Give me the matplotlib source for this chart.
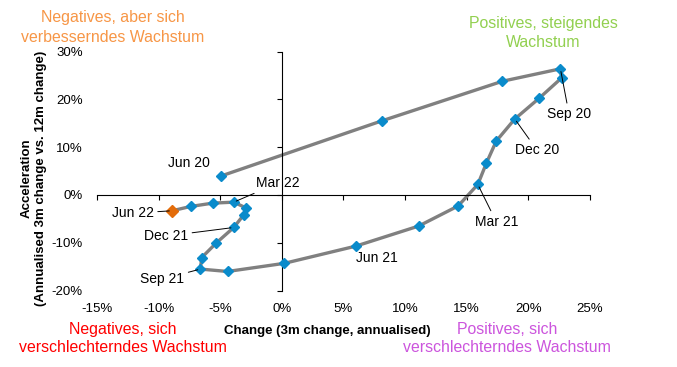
import matplotlib.pyplot as plt
from matplotlib.ticker import FuncFormatter

plt.rcParams['font.family'] = ['Liberation Sans', 'DejaVu Sans']

# monthly points, Jun 20 .. Jun 22 (in %)
months = ['Jun 20', 'Jul 20', 'Aug 20', 'Sep 20', 'Oct 20', 'Nov 20', 'Dec 20',
          'Jan 21', 'Feb 21', 'Mar 21', 'Apr 21', 'May 21', 'Jun 21',
          'Jul 21', 'Aug 21', 'Sep 21', 'Oct 21', 'Nov 21', 'Dec 21',
          'Jan 22', 'Feb 22', 'Mar 22', 'Apr 22', 'May 22', 'Jun 22']
change = [-4.9, 8.1, 17.9, 22.6, 22.7, 20.9, 18.9, 17.4, 16.6, 15.9, 14.3, 11.1, 6.0,
          0.2, -4.4, -6.6, -6.5, -5.3, -3.9, -3.1, -2.9, -3.9, -5.6, -7.4, -8.9]
accel = [4.0, 15.5, 23.8, 26.4, 24.5, 20.3, 15.9, 11.3, 6.7, 2.2, -2.3, -6.5, -10.7,
         -14.3, -16.0, -15.5, -13.1, -10.0, -6.8, -4.2, -2.7, -1.5, -1.7, -2.4, -3.3]

x_ticks = [-15, -10, -5, 0, 5, 10, 15, 20, 25]
y_ticks = [-20, -10, 0, 10, 20, 30]

# label -> text position (data units), whether a leader line is drawn
labels = {
    'Jun 20': (-7.5, 6.7, False),
    'Sep 20': (23.3, 16.9, True),
    'Dec 20': (20.7, 9.4, True),
    'Mar 21': (17.4, -5.6, True),
    'Jun 21': (7.7, -13.2, False),
    'Sep 21': (-9.7, -17.6, True),
    'Dec 21': (-9.4, -8.6, True),
    'Mar 22': (-0.3, 2.5, True),
    'Jun 22': (-12.1, -3.8, True),
}

# quadrant captions: (x, y of each line) in figure fraction, colour
quadrants = [
    (['Negatives, aber sich', 'verbesserndes Wachstum'], 0.167, [0.953, 0.899], '#F79646'),
    (['Positives, steigendes', 'Wachstum'], 0.802, [0.937, 0.883], '#92D050'),
    (['Negatives, sich', 'verschlechterndes Wachstum'], 0.182, [0.101, 0.052], '#FF0000'),
    (['Positives, sich', 'verschlechterndes Wachstum'], 0.749, [0.101, 0.052], '#CC55DD'),
]

fig = plt.figure(figsize=(6.77, 3.67), dpi=100)
pos = [0.1431, 0.2082, 0.7284, 0.6512]

# axes for tick labels at the edges
ax = fig.add_axes(pos)
# overlay axes for the zero-crossing axis lines
ax2 = fig.add_axes(pos, facecolor='none')

pct = FuncFormatter(lambda v, p: f'{v:.0f}%')
for a in (ax, ax2):
    a.set_xlim(-15, 25)
    a.set_ylim(-20, 30)
    a.set_xticks(x_ticks)
    a.set_yticks(y_ticks)
    a.xaxis.set_major_formatter(pct)
    a.yaxis.set_major_formatter(pct)

for s in ax.spines.values():
    s.set_visible(False)
ax.tick_params(length=0, labelsize=9.5)
ax.tick_params(axis='x', pad=9)
ax.tick_params(axis='y', pad=10)

ax2.spines['left'].set_position(('data', 0))
ax2.spines['bottom'].set_position(('data', 0))
ax2.spines['top'].set_visible(False)
ax2.spines['right'].set_visible(False)
ax2.spines['left'].set_linewidth(0.8)
ax2.spines['bottom'].set_linewidth(0.8)
ax2.tick_params(labelleft=False, labelbottom=False, length=3.5, width=0.8)

ax2.plot(change, accel, color='#808080', lw=2.4, zorder=2)
ax2.plot(change[:-1], accel[:-1], ls='none', marker='D', ms=5.2,
         color='#0A8BCB', mec='#0A8BCB', zorder=3)
ax2.plot(change[-1:], accel[-1:], ls='none', marker='D', ms=5.8,
         color='#E36C0A', mec='#E36C0A', zorder=3)

for name, (tx, ty, leader) in labels.items():
    i = months.index(name)
    ax2.annotate(name, xy=(change[i], accel[i]), xytext=(tx, ty),
                 ha='center', va='center', fontsize=10,
                 arrowprops=dict(arrowstyle='-', color='black', lw=0.7,
                                 shrinkA=1, shrinkB=2) if leader else None)

for lines, qx, qys, col in quadrants:
    for line, qy in zip(lines, qys):
        fig.text(qx, qy, line, color=col, fontsize=11.4, ha='center', va='center')

fig.text(0.483, 0.098, 'Change (3m change, annualised)', fontsize=9.5,
         fontweight='bold', ha='center', va='center')
fig.text(0.050, 0.515, 'Acceleration\n(Annualised 3m change vs. 12m change)',
         fontsize=9.5, fontweight='bold', ha='center', va='center', rotation=90)

fig.savefig('out.png', dpi=100)
